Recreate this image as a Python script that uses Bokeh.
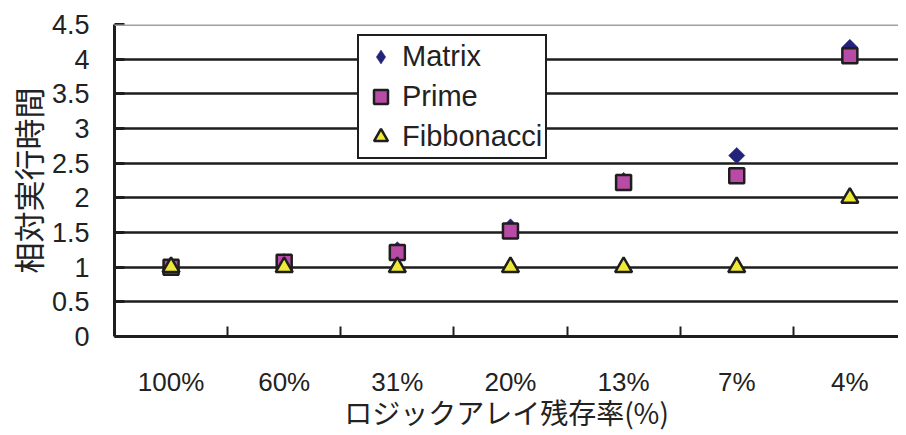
import numpy as np
from bokeh.plotting import figure
from bokeh.models import FixedTicker, Range1d, Legend, LegendItem, Span
from bokeh.embed import file_html
from bokeh.resources import INLINE

categories = ["100%", "60%", "31%", "20%", "13%", "7%", "4%"]
matrix = [1.0, 1.08, 1.25, 1.58, 2.25, 2.61, 4.17]
prime = [1.0, 1.07, 1.21, 1.52, 2.22, 2.32, 4.05]
fib = [1.0, 1.0, 1.0, 1.0, 1.0, 1.0, 2.0]
y_ticks = [0, 0.5, 1, 1.5, 2, 2.5, 3, 3.5, 4, 4.5]

n = len(categories)
x = list(range(n))

JP = "'Noto Sans CJK JP'"
SANS = "'Liberation Sans', Arial, sans-serif"
INK = "#1e1e1e"
TXT = "#222222"
C_MATRIX = "#24237a"
C_PRIME = "#b84ba5"
C_FIB = "#f0e838"

p = figure(width=898, height=434, output_backend="svg", toolbar_location=None,
           x_range=Range1d(-0.5, n - 0.57), y_range=Range1d(y_ticks[0], y_ticks[-1]),
           min_border_left=114, min_border_right=0, min_border_top=24, min_border_bottom=98)
p.background_fill_color = "white"
p.border_fill_color = "white"
p.outline_line_color = None

# grid
p.xgrid.grid_line_color = None
p.ygrid.grid_line_color = INK
p.ygrid.grid_line_width = 2.5
p.ygrid.ticker = FixedTicker(ticks=y_ticks[:-1])
p.add_layout(Span(location=y_ticks[-1], dimension="width", line_color="#a0a0a0", line_width=3))

# y axis
p.yaxis.ticker = FixedTicker(ticks=y_ticks)
p.yaxis.major_label_overrides = {t: ("%g" % t) for t in y_ticks}
p.yaxis.axis_line_color = INK
p.yaxis.axis_line_width = 3
p.yaxis.major_tick_in = 10
p.yaxis.major_tick_out = 0
p.yaxis.major_tick_line_width = 3
p.yaxis.major_tick_line_color = INK
p.yaxis.minor_tick_line_color = None
p.yaxis.major_label_text_font = SANS
p.yaxis.major_label_text_font_size = "27px"
p.yaxis.major_label_text_color = TXT
p.yaxis.major_label_standoff = 25
p.yaxis.axis_label = "相対実行時間"
p.yaxis.axis_label_text_font = JP
p.yaxis.axis_label_text_font_size = "31px"
p.yaxis.axis_label_text_font_style = "normal"
p.yaxis.axis_label_text_color = TXT
p.yaxis.axis_label_standoff = -1

# x axis
p.xaxis.ticker = FixedTicker(ticks=x, minor_ticks=[i + 0.5 for i in range(n - 1)])
p.xaxis.major_label_overrides = {i: c for i, c in zip(x, categories)}
p.xaxis.axis_line_color = INK
p.xaxis.axis_line_width = 3
p.xaxis.major_tick_line_color = None
p.xaxis.major_tick_in = 0
p.xaxis.major_tick_out = 0
p.xaxis.minor_tick_in = 10
p.xaxis.minor_tick_out = 0
p.xaxis.minor_tick_line_width = 2
p.xaxis.minor_tick_line_color = INK
p.xaxis.major_label_text_font = SANS
p.xaxis.major_label_text_font_size = "26px"
p.xaxis.major_label_text_color = TXT
p.xaxis.major_label_standoff = 30
p.xaxis.axis_label = "ロジックアレイ残存率(%)"
p.xaxis.axis_label_text_font = JP
p.xaxis.axis_label_text_font_size = "28px"
p.xaxis.axis_label_text_font_style = "normal"
p.xaxis.axis_label_text_color = TXT
p.xaxis.axis_label_standoff = -8

# diamond glyph (hidden under the rotated squares) used for the legend entry
r1_leg = p.scatter(x, matrix, marker="diamond", size=14,
                   fill_color=C_MATRIX, line_color=C_MATRIX, line_width=0.5)
r1 = p.scatter(x, matrix, marker="square", angle=np.pi / 4, size=11.5,
               fill_color=C_MATRIX, line_color=C_MATRIX, line_width=0.5)
r2 = p.scatter(x, prime, marker="square", size=15,
               fill_color=C_PRIME, line_color=INK, line_width=2.5)
r3 = p.scatter(x, fib, marker="triangle", size=17,
               fill_color=C_FIB, line_color=INK, line_width=2.5)

legend = Legend(items=[LegendItem(label="Matrix", renderers=[r1_leg]),
                       LegendItem(label="Prime", renderers=[r2]),
                       LegendItem(label="Fibbonacci", renderers=[r3])],
                location=(243, 177))
legend.border_line_color = INK
legend.border_line_alpha = 1.0
legend.border_line_width = 2.5
legend.background_fill_color = "white"
legend.background_fill_alpha = 1
legend.label_text_font = SANS
legend.label_text_font_size = "29px"
legend.label_text_color = TXT
legend.glyph_width = 37
legend.glyph_height = 35
legend.label_height = 20
legend.spacing = 5
legend.padding = 3
legend.margin = 0
legend.label_standoff = 3
p.add_layout(legend, "center")

open("out.html", "w").write(file_html(p, INLINE))
